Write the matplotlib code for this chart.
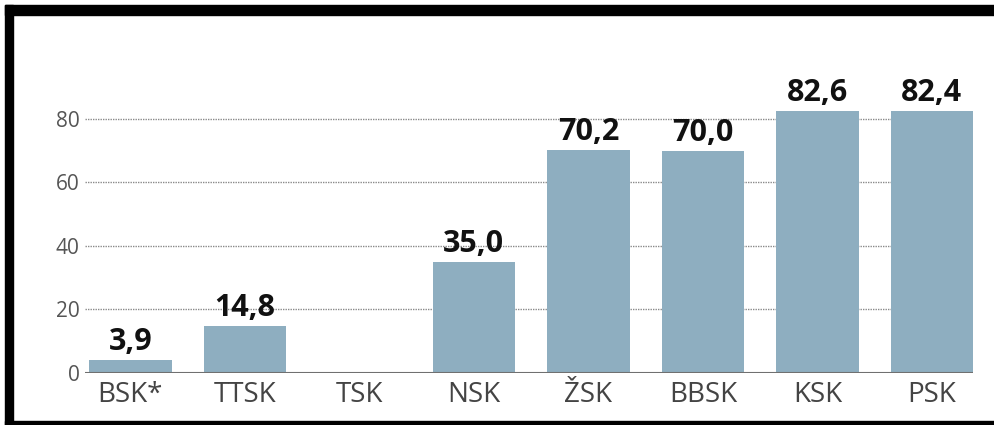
import matplotlib.pyplot as plt
import numpy as np
from matplotlib.patches import Rectangle

plt.rcParams['font.family'] = ['Open Sans', 'DejaVu Sans']

# data
regions = ["BSK*", "TTSK", "TSK", "NSK", "ŽSK", "BBSK", "KSK", "PSK"]
values = [3.9, 14.8, None, 35.0, 70.2, 70.0, 82.6, 82.4]
y_ticks = [0, 20, 40, 60, 80]

bar_color = "#8eaec0"

fig = plt.figure(figsize=(9.95, 4.25), dpi=100)
fig.patch.set_facecolor("white")
ax = fig.add_axes([0.0854, 0.1235, 0.978 - 0.0854, 0.8165 - 0.1235])

x = np.arange(len(regions))
heights = [v if v is not None else 0 for v in values]
ax.bar(x, heights, width=0.72, color=bar_color, zorder=2)

# value labels
for xi, v in zip(x, values):
    if v is None:
        continue
    ax.annotate(f"{v:.1f}".replace(".", ","), xy=(xi, v), xytext=(0, 2),
                textcoords="offset points", ha="center", va="bottom",
                fontsize=22, fontweight="bold", color="#111111", zorder=3)

# grid and baseline
for t in y_ticks[1:]:
    ax.axhline(t, color="#8a8a8a", linewidth=1.0, linestyle=(0, (1, 0.8)), zorder=1)
ax.axhline(0, color="#707070", linewidth=1.5, zorder=3)

ax.set_xlim(-0.397, 7.36)
ax.set_ylim(0, 92.9)
ax.set_xticks(x)
ax.set_xticklabels(regions, fontsize=20, color="#444444")
ax.set_yticks(y_ticks)
ax.set_yticklabels([str(t) for t in y_ticks], fontsize=15, color="#555555")
ax.tick_params(axis="both", length=0)
ax.tick_params(axis="y", pad=4)
ax.tick_params(axis="x", pad=6)
for s in ax.spines.values():
    s.set_visible(False)

# black frame round the picture (top, left, bottom)
W, H = 995.0, 425.0
fig.patches.append(Rectangle((5 / W, 1 - 15 / H), 1 - 5 / W, 10 / H,
                             transform=fig.transFigure, color="black", zorder=10))
fig.patches.append(Rectangle((5 / W, 0), 8 / W, 1 - 5 / H,
                             transform=fig.transFigure, color="black", zorder=10))
fig.patches.append(Rectangle((5 / W, 0), 1 - 5 / W, 4 / H,
                             transform=fig.transFigure, color="black", zorder=10))

fig.savefig("out.png", dpi=100, facecolor="white")
